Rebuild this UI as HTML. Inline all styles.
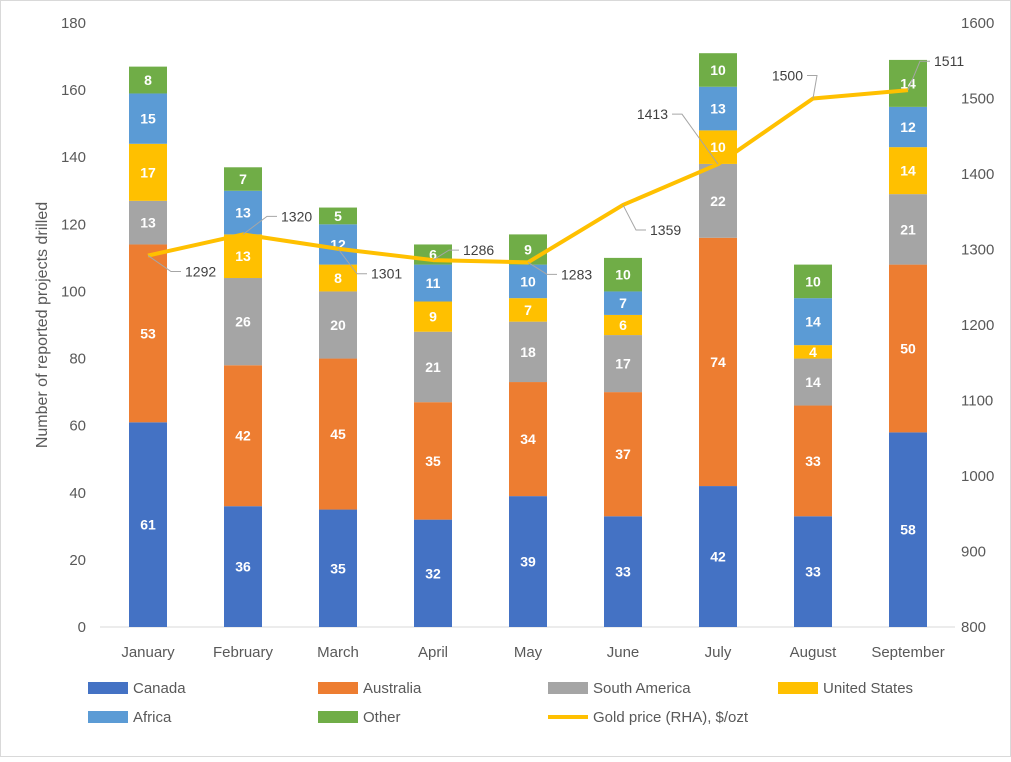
<!DOCTYPE html>
<html><head><meta charset="utf-8"><style>
body{margin:0;background:#fff;font-family:"Liberation Sans",sans-serif}
svg text{font-family:"Liberation Sans",sans-serif}
</style></head><body>
<svg id="c" width="1011" height="757" xmlns="http://www.w3.org/2000/svg">
<rect x="0.5" y="0.5" width="1010" height="756" fill="#fff" stroke="#d9d9d9"/>
<text transform="translate(47,325) rotate(-90)" text-anchor="middle" font-size="16" fill="#595959">Number of reported projects drilled</text>
<g id="plot"></g>
</svg>
<script>
const months=["January","February","March","April","May","June","July","August","September"];
const canada=[61,36,35,32,39,33,42,33,58];
const australia=[53,42,45,35,34,37,74,33,50];
const southAmerica=[13,26,20,21,18,17,22,14,21];
const unitedStates=[17,13,8,9,7,6,10,4,14];
const africa=[15,13,12,11,10,7,13,14,12];
const other=[8,7,5,6,9,10,10,10,14];
const gold=[1292,1320,1301,1286,1283,1359,1413,1500,1511];
const leftTicks=[0,20,40,60,80,100,120,140,160,180];
const rightTicks=[800,900,1000,1100,1200,1300,1400,1500,1600];
const NS="http://www.w3.org/2000/svg";
const g=document.getElementById('plot');
const y0=627,yTop=23;
const yL=v=>y0-(v/180)*(y0-yTop);
const yR=v=>y0-((v-800)/800)*(y0-yTop);
const xC=i=>148+i*95;
function mk(t,a){const e=document.createElementNS(NS,t);for(const k in a)e.setAttribute(k,a[k]);g.appendChild(e);return e;}
let e=mk('line',{x1:100,x2:955,y1:y0,y2:y0,stroke:'#d9d9d9'});


leftTicks.forEach(v=>{const t=mk('text',{x:86,y:yL(v)+5,'text-anchor':'end','font-size':15,fill:'#595959'});t.textContent=v;

});
rightTicks.forEach(v=>{const t=mk('text',{x:961,y:yR(v)+5,'font-size':15,fill:'#595959'});t.textContent=v;

});
const series=[["canada",canada,"#4472c4"],["australia",australia,"#ed7d31"],["south-america",southAmerica,"#a5a5a5"],["united-states",unitedStates,"#ffc000"],["africa",africa,"#5b9bd5"],["other",other,"#70ad47"]];
months.forEach((m,i)=>{
 let cum=0;
 series.forEach(([n,arr,col])=>{
  const v=arr[i];const yt=yL(cum+v),yb=yL(cum);
  const r=mk('rect',{x:xC(i)-19,y:yt,width:38,height:yb-yt,fill:col});
  
  
  const t=mk('text',{x:xC(i),y:(yt+yb)/2+5,'text-anchor':'middle','font-size':14,'font-weight':'bold',fill:'#fff'});t.textContent=v;
  
  
  cum+=v;
 });
 const t=mk('text',{x:xC(i),y:657,'text-anchor':'middle','font-size':15,fill:'#595959'});t.textContent=m;
 
 
});
const pl=mk('polyline',{points:gold.map((v,i)=>xC(i)+','+yR(v)).join(' '),fill:'none',stroke:'#ffc000','stroke-width':4,'stroke-linejoin':'round'});


const lo=[[37,16,'start'],[38,-18,'start'],[33,25,'start'],[30,-10,'start'],[33,12,'start'],[27,25,'start'],[-50,-50,'end'],[-10,-23,'end'],[26,-29,'start']];
gold.forEach((v,i)=>{
 const x=xC(i),y=yR(v),[dx,dy,an]=lo[i];
 const lx=x+dx,ly=y+dy;
 const ex=an==='start'?lx-4:lx+4;
 const ln=mk('polyline',{points:`${x},${y} ${ex-(an==='start'?10:-10)},${ly} ${ex},${ly}`,fill:'none',stroke:'#a6a6a6','stroke-width':1});
 
 
 const t=mk('text',{x:lx,y:ly+5,'text-anchor':an,'font-size':14,fill:'#404040'});t.textContent=v;
 
 
});
const leg=[["Canada","#4472c4",88,688],["Australia","#ed7d31",318,688],["South America","#a5a5a5",548,688],["United States","#ffc000",778,688],["Africa","#5b9bd5",88,717],["Other","#70ad47",318,717]];
leg.forEach(([n,c,x,y])=>{
 const r=mk('rect',{x:x,y:y-6,width:40,height:12,fill:c});
 
 
 const t=mk('text',{x:x+45,y:y+5,'font-size':15,fill:'#595959'});t.textContent=n;
 
 
});
const ll=mk('line',{x1:548,x2:588,y1:717,y2:717,stroke:'#ffc000','stroke-width':4});


const lt=mk('text',{x:593,y:722,'font-size':15,fill:'#595959'});lt.textContent="Gold price (RHA), $/ozt";


</script>
</body></html>
